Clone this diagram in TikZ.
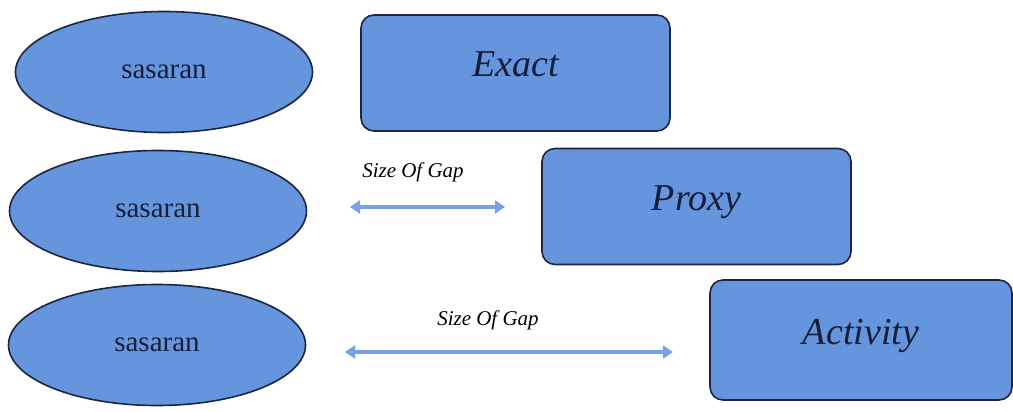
\documentclass[tikz,border=0pt]{standalone}
\usepackage{fontspec}
\setmainfont{Liberation Serif}
\usetikzlibrary{arrows.meta,shapes.geometric}
\definecolor{fillblue}{RGB}{100,149,221}
\definecolor{edgeblue}{RGB}{28,38,64}
\definecolor{txtblue}{RGB}{22,30,58}
\definecolor{arrblue}{RGB}{118,163,226}
\tikzset{
  ell/.style={ellipse, draw=edgeblue, fill=fillblue, line width=1.6pt, inner sep=0pt,
    minimum width=297pt, minimum height=121pt, text=txtblue, font=\fontsize{29}{30}\selectfont},
  box/.style={rectangle, rounded corners=13pt, draw=edgeblue, fill=fillblue, line width=1.6pt, inner sep=0pt,
    minimum width=309pt, minimum height=116pt, text=txtblue, font=\itshape\fontsize{38}{40}\selectfont,
    text depth=0pt, text height=0pt},
  gaparrow/.style={draw=arrblue, line width=3.4pt, {Triangle[length=10pt,width=13pt]}-{Triangle[length=10pt,width=13pt]}},
  gaplabel/.style={text=black, font=\itshape\fontsize{21}{23}\selectfont}
}
\begin{document}
\begin{tikzpicture}[x=1pt,y=-1pt]
\useasboundingbox[fill=white] (0,0) rectangle (1013,412);
\node[ell] (e1) at (164,72) {sasaran};
\node[ell] (e2) at (158,211) {sasaran};
\node[ell] (e3) at (157,345) {sasaran};
\node[box] (exact) at (515.5,73) {\raisebox{-4pt}{Exact}};
\node[box] (proxy) at (696.5,206.5) {\raisebox{-4pt}{Proxy}};
\node[box, minimum width=302pt, minimum height=120pt] (activity) at (861,340) {\raisebox{-4pt}{Activity}};
\coordinate (a1l) at (350,207);
\coordinate (a1r) at (505,207);
\coordinate (a2l) at (345,352);
\coordinate (a2r) at (673,352);
\draw[gaparrow] (a1l) -- (a1r);
\draw[gaparrow] (a2l) -- (a2r);
\node[gaplabel] (g1) at (413,172) {Size Of Gap};
\node[gaplabel] (g2) at (488,320) {Size Of Gap};
\end{tikzpicture}
\end{document}
